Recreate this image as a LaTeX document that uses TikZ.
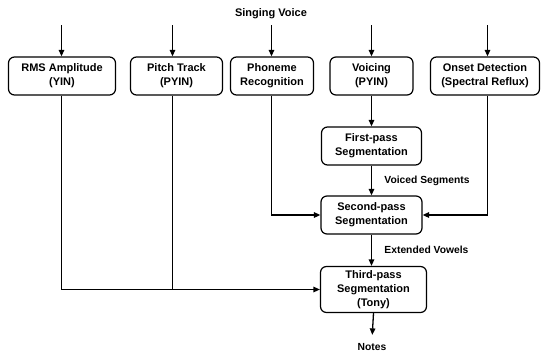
\documentclass[tikz,border=0pt]{standalone}
\usepackage{fontspec}
\setmainfont{Liberation Sans}
\usetikzlibrary{arrows.meta,positioning}

\tikzset{
  stage/.style={draw, line width=1.2pt, rounded corners=6pt, align=center,
                inner sep=0pt, minimum height=38pt,
                font=\bfseries\fontsize{11}{14}\selectfont},
  flow/.style={line width=1.3pt, -{Triangle[length=6.5pt,width=5.5pt]}},
  feed/.style={line width=1.3pt},
  flowlabel/.style={font=\bfseries\fontsize{10.3}{12}\selectfont}
}

\begin{document}
\begin{tikzpicture}[x=1pt,y=-1pt]
\useasboundingbox (0,0) rectangle (542,354);
% input and top row
\node[font=\bfseries\fontsize{11}{13}\selectfont] (voice) at (271,13.5) {Singing Voice};
\node[stage, minimum width=107pt] (rms) at (62,76) {RMS Amplitude\\(YIN)};
\node[stage, minimum width=92pt] (pitch) at (176.5,76) {Pitch Track\\(PYIN)};
\node[stage, minimum width=83pt] (phon) at (272,76) {Phoneme\\Recognition};
\node[stage, minimum width=83pt] (voicing) at (371.5,76) {Voicing\\(PYIN)};
\node[stage, minimum width=109pt] (onset) at (485,76) {Onset Detection\\(Spectral Reflux)};
% segmentation passes
\node[stage, minimum width=100pt] (first) at (371.5,146) {First-pass\\Segmentation};
\node[stage, minimum width=101pt] (second) at (371.5,215) {Second-pass\\Segmentation};
\node[stage, minimum width=106pt, minimum height=46pt] (third) at (373.5,289.5) {Third-pass\\Segmentation\\(Tony)};
\node[flowlabel] (notes) at (372,347) {Notes};

\coordinate (in-rms) at (61.5,25);
\coordinate (in-pitch) at (172.5,25);
\coordinate (in-phon) at (271.5,25);
\coordinate (in-voicing) at (371.5,25);
\coordinate (in-onset) at (487.5,25);

\foreach \src/\dst in {rms/rms, pitch/pitch, phon/phon, voicing/voicing, onset/onset}
  \draw[flow] (in-\src) -- (in-\src |- \dst.north);

\draw[flow] (in-rms |- rms.south) |- (third.west);
\draw[feed] (in-pitch |- pitch.south) -- (in-pitch |- third.west);
\draw[flow] (in-phon |- phon.south) |- (second.west);
\draw[flow] (in-onset |- onset.south) |- (second.east);
\draw[flow] (voicing.south) -- (first.north);
\draw[flow] (first.south) -- node[flowlabel, midway, right=9pt] {Voiced Segments} (second.north);
\draw[flow] (second.south) -- node[flowlabel, midway, right=9pt] {Extended Vowels} (second.south |- third.north);
\draw[flow, shorten >=5pt] (third.south) -- (notes.north);
\end{tikzpicture}
\end{document}
